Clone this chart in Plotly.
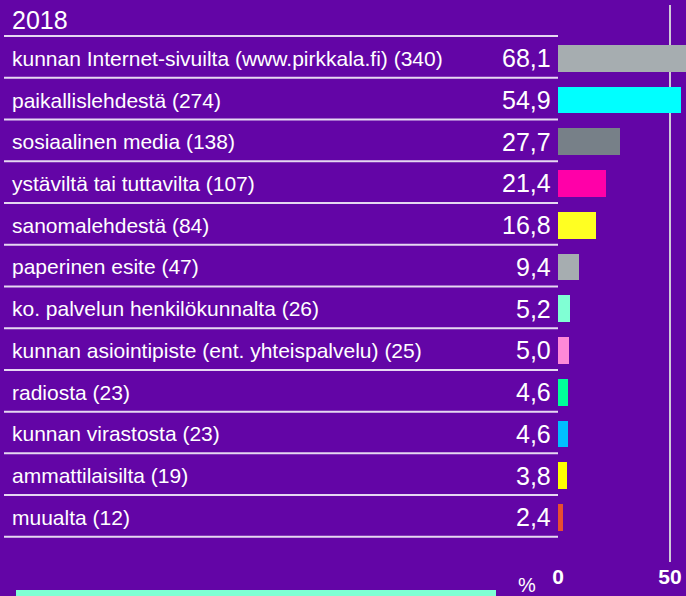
import plotly.graph_objects as go

title_text = "2018"
categories = [
    "kunnan Internet-sivuilta (www.pirkkala.fi) (340)",
    "paikallislehdestä (274)",
    "sosiaalinen media (138)",
    "ystäviltä tai tuttavilta (107)",
    "sanomalehdestä (84)",
    "paperinen esite (47)",
    "ko. palvelun henkilökunnalta (26)",
    "kunnan asiointipiste (ent. yhteispalvelu) (25)",
    "radiosta (23)",
    "kunnan virastosta (23)",
    "ammattilaisilta (19)",
    "muualta (12)",
]
values = [68.1, 54.9, 27.7, 21.4, 16.8, 9.4, 5.2, 5.0, 4.6, 4.6, 3.8, 2.4]
value_labels = ["68,1", "54,9", "27,7", "21,4", "16,8", "9,4", "5,2", "5,0", "4,6", "4,6", "3,8", "2,4"]
bar_colors = ["#a6adb0", "#00ffff", "#778088", "#ff00a8", "#ffff22", "#a6adb0",
              "#80ffd4", "#ff88d8", "#00ff99", "#00bfff", "#ffff00", "#e84e30"]
tick_vals = [0, 50]
tick_text = ["0", "50"]
unit_text = "%"

BG = "#6305a6"
FONT = "Liberation Sans, Arial, sans-serif"
W, H = 686, 596
L, R, T, B = 558, 0, 5, 34
plot_w = W - L - R
plot_h = H - T - B

fig = go.Figure()
fig.add_trace(go.Bar(
    y=categories, x=values, orientation="h",
    marker=dict(color=bar_colors, line=dict(width=0)),
    width=0.64, hoverinfo="skip",
))

def px_to_paper_x(px):
    return (px - L) / plot_w

def px_to_paper_y(py):
    return 1 - (py - T) / plot_h

annotations = []
for cat, vl in zip(categories, value_labels):
    annotations.append(dict(
        x=px_to_paper_x(10), xref="paper", y=cat, yref="y",
        text=cat, showarrow=False, xanchor="left", yanchor="middle",
        font=dict(family=FONT, size=21, color="#ffffff"),
    ))
    annotations.append(dict(
        x=px_to_paper_x(553), xref="paper", y=cat, yref="y",
        text=vl, showarrow=False, xanchor="right", yanchor="middle",
        font=dict(family=FONT, size=25, color="#ffffff"),
    ))
annotations.append(dict(
    x=px_to_paper_x(10), xref="paper", y=px_to_paper_y(20), yref="paper",
    text=title_text, showarrow=False, xanchor="left", yanchor="middle",
    font=dict(family=FONT, size=25, color="#ffffff"),
))
annotations.append(dict(
    x=px_to_paper_x(527), xref="paper", y=px_to_paper_y(572), yref="paper",
    text=unit_text, showarrow=False, xanchor="center", yanchor="top",
    font=dict(family=FONT, size=20, color="#ffffff"),
))

shapes = []
n = len(categories)
for k in range(-1, n):
    shapes.append(dict(
        type="line", xref="paper", yref="y",
        x0=px_to_paper_x(4), x1=0, y0=k + 0.467, y1=k + 0.467,
        line=dict(color="#e6d8f2", width=2),
    ))
shapes.append(dict(
    type="line", xref="x", yref="paper", x0=tick_vals[1], x1=tick_vals[1], y0=0, y1=1,
    line=dict(color="#d0c8d8", width=2), layer="below",
))
shapes.append(dict(
    type="rect", xref="paper", yref="paper",
    x0=px_to_paper_x(16), x1=px_to_paper_x(496), y0=px_to_paper_y(610), y1=px_to_paper_y(590),
    fillcolor="#80ffd4", line=dict(width=0),
))

fig.update_layout(
    width=W, height=H,
    margin=dict(l=L, r=R, t=T, b=B, pad=0),
    paper_bgcolor=BG, plot_bgcolor=BG,
    showlegend=False,
    annotations=annotations, shapes=shapes,
    bargap=0,
    xaxis=dict(
        range=[0, plot_w / 2.24], tickvals=tick_vals, ticktext=tick_text,
        showgrid=False, zeroline=False, showline=False, ticks="",
        tickfont=dict(family=FONT, size=21, color="#ffffff", weight="bold"),
        fixedrange=True,
    ),
    yaxis=dict(
        type="category", categoryorder="array", categoryarray=categories,
        range=[12.07, -1.277], showticklabels=False, showgrid=False,
        zeroline=False, showline=False, ticks="", fixedrange=True,
    ),
)

fig.write_html(
    "out.html",
    config={"displayModeBar": False},
    post_script="document.body.style.margin='0';document.body.style.overflow='hidden';",
)
